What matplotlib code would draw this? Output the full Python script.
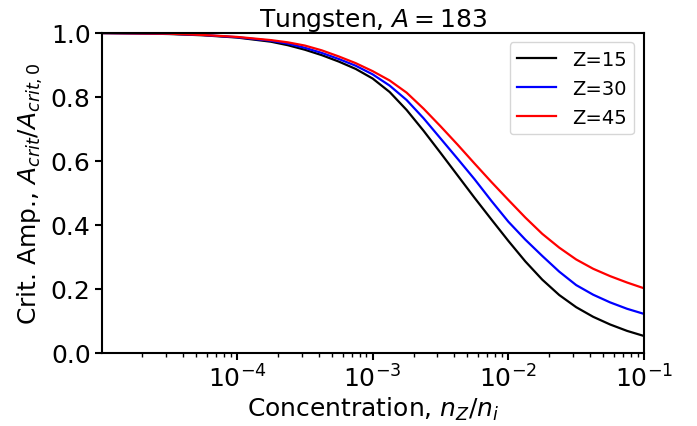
import numpy as np
import matplotlib
matplotlib.use('Agg')
import matplotlib.pyplot as plt

# values: log10 of concentration and normalised critical amplitude
log_conc = [-5.0, -4.75, -4.5, -4.25, -4.0, -3.75, -3.625, -3.5, -3.375, -3.25,
            -3.125, -3.0, -2.875, -2.75, -2.625, -2.5, -2.375, -2.25, -2.125, -2.0,
            -1.875, -1.75, -1.625, -1.5, -1.375, -1.25, -1.125, -1.0]
z15 = [0.999, 0.998, 0.996, 0.992, 0.985, 0.972, 0.961, 0.947, 0.930, 0.910,
       0.887, 0.857, 0.815, 0.759, 0.694, 0.625, 0.555, 0.485, 0.417, 0.350,
       0.286, 0.229, 0.181, 0.143, 0.113, 0.089, 0.069, 0.053]
z30 = [0.999, 0.998, 0.997, 0.993, 0.986, 0.975, 0.966, 0.953, 0.937, 0.918,
       0.897, 0.870, 0.835, 0.790, 0.733, 0.670, 0.607, 0.543, 0.475, 0.410,
       0.354, 0.303, 0.254, 0.212, 0.182, 0.158, 0.138, 0.122]
z45 = [0.999, 0.998, 0.997, 0.993, 0.987, 0.977, 0.970, 0.960, 0.945, 0.926,
       0.905, 0.880, 0.851, 0.813, 0.763, 0.708, 0.651, 0.592, 0.534, 0.478,
       0.423, 0.372, 0.329, 0.292, 0.263, 0.240, 0.220, 0.202]

conc = 10.0 ** np.array(log_conc)

fig = plt.figure(figsize=(6.97, 4.27), dpi=100)
ax = fig.add_axes([0.147, 0.171, 0.777, 0.750])

ax.plot(conc, z15, color='black', lw=1.6, label='Z=15')
ax.plot(conc, z30, color='blue', lw=1.6, label='Z=30')
ax.plot(conc, z45, color='red', lw=1.6, label='Z=45')

ax.set_xscale('log')
ax.set_xlim(1.02e-5, 1e-1)
ax.set_ylim(0, 1)
ax.set_yticks([0.0, 0.2, 0.4, 0.6, 0.8, 1.0])

ax.set_title('Tungsten, $A = 183$', fontsize=18, pad=4)
ax.set_xlabel('Concentration, $n_Z/n_i$', fontsize=18, labelpad=2)
ax.set_ylabel('Crit. Amp., $A_{crit}/A_{crit,0}$', fontsize=18, labelpad=4)

ax.tick_params(which='major', labelsize=18, length=5, width=1.5)
ax.tick_params(which='minor', length=3, width=1.0)
for sp in ax.spines.values():
    sp.set_linewidth(1.5)

ax.legend(loc='upper right', fontsize=14)

fig.savefig('out.png', dpi=100)
